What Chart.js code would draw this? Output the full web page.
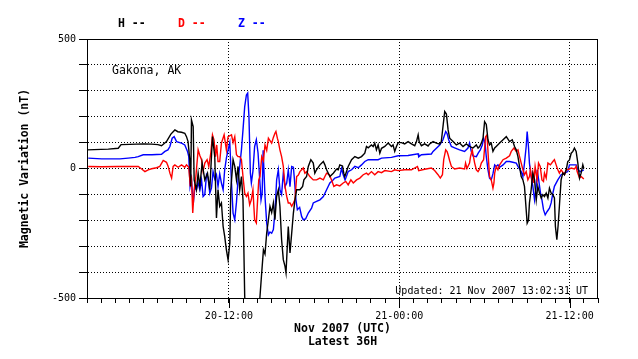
<!DOCTYPE html>
<html lang="en">
<head>
    <meta charset="UTF-8">
    <title>Gakona, AK - Magnetic Variation</title>
    <style>
        html, body { margin: 0; padding: 0; background: #fff; }
        #wrap { width: 638px; height: 359px; }
    </style>
    <script src="https://cdn.jsdelivr.net/npm/chart.js"></script>
</head>
<body>
    <div id="wrap"><canvas id="grafico"></canvas></div>

    <script>
        // hours since 20 Nov 2007 02:00 UTC (36 h window)
        const hTime = [0,0.5,1,1.5,2.2,2.4,3,3.5,4,4.55,5.0,5.25,5.6,5.91,6.19,6.4,6.66,6.89,7.01,7.12,7.24,7.31,7.36,7.48,7.55,7.71,7.83,7.95,8.11,8.3,8.49,8.65,8.84,9.0,9.12,9.23,9.35,9.47,9.59,9.7,9.82,9.94,10.06,10.13,10.29,10.41,10.53,10.64,10.76,10.88,10.99,11.11,11.2,12.1,12.17,12.29,12.43,12.54,12.66,12.78,12.89,13.01,13.13,13.24,13.36,13.48,13.59,13.71,13.83,13.95,14.02,14.11,14.18,14.3,14.42,14.54,14.65,14.77,15.0,15.19,15.28,15.47,15.59,15.77,15.94,16.05,16.17,16.41,16.65,16.76,16.88,17.11,17.35,17.58,17.7,17.81,18.0,18.09,18.16,18.23,18.4,18.64,18.87,19.11,19.34,19.57,19.69,19.81,20.04,20.16,20.27,20.39,20.51,20.63,20.75,20.98,21.22,21.45,21.56,21.68,21.8,21.92,22.15,22.38,22.62,22.86,23.09,23.21,23.33,23.4,23.56,23.79,24.03,24.14,24.38,24.61,24.85,24.96,25.08,25.2,25.32,25.44,25.55,25.79,26.02,26.25,26.49,26.72,26.95,27.19,27.43,27.55,27.66,27.78,27.9,28.01,28.13,28.25,28.36,28.48,28.6,28.72,28.83,29.07,29.31,29.54,29.77,29.96,30.12,30.24,30.36,30.47,30.59,30.71,30.82,30.94,31.01,31.1,31.17,31.29,31.41,31.53,31.65,31.76,31.88,32.0,32.11,32.23,32.35,32.47,32.58,32.7,32.82,32.93,33.0,33.1,33.19,33.28,33.4,33.52,33.64,33.76,33.87,33.99,34.11,34.23,34.34,34.46,34.58,34.7,34.81,34.93,35.0];
        const hVal  = [72,73,74,75,78,92,93,94,95,94,92,88,104,133,149,142,140,136,123,104,34,-69,188,162,-44,-82,-18,-69,21,-44,-18,-82,123,46,-191,-82,-146,-133,-224,-262,-314,-353,-288,-82,34,8,-44,8,-82,-31,-121,-494,-560,-560,-507,-416,-314,-330,-249,-198,-146,-170,-133,-198,-108,-82,-146,-275,-352,-378,-403,-301,-224,-326,-250,-172,-121,-82,-82,-69,-44,-31,8,34,21,-18,-5,14,27,14,-5,-31,-18,-2,-5,14,10,-18,-31,-20,8,34,46,40,46,59,85,80,91,85,98,72,91,59,78,85,98,85,91,66,85,100,100,95,104,95,88,104,130,104,88,95,87,95,104,98,94,104,162,220,210,149,117,104,91,98,85,95,85,79,91,79,85,98,117,181,170,111,91,98,66,79,85,98,111,123,104,111,85,72,46,8,-31,-44,-69,-159,-211,-200,-133,-82,-18,-44,-121,-69,-95,-114,-101,-108,-95,-114,-76,-95,-101,-114,-224,-275,-220,-146,-44,-18,-24,-5,27,33,59,66,79,66,21,-37,-18,14,0];

        const dTime = [0.09,1.03,2.18,3.61,3.85,4.08,4.31,4.55,4.9,5.13,5.37,5.6,5.72,5.84,5.96,6.07,6.19,6.42,6.66,6.89,7.01,7.17,7.26,7.36,7.45,7.55,7.67,7.83,7.95,8.07,8.18,8.3,8.46,8.58,8.72,8.84,8.95,9.05,9.14,9.23,9.35,9.47,9.66,9.82,9.94,10.18,10.29,10.41,10.53,10.64,10.76,10.88,10.99,11.11,11.23,11.34,11.46,11.58,11.69,11.81,11.93,12.0,12.1,12.19,12.31,12.43,12.54,12.66,12.78,12.89,13.01,13.13,13.24,13.31,13.41,13.48,13.59,13.71,13.83,13.95,14.07,14.18,14.3,14.42,14.54,14.65,14.77,14.89,15.0,15.12,15.24,15.35,15.47,15.7,15.94,16.17,16.41,16.65,16.76,16.88,17.07,17.23,17.39,17.58,17.81,18.05,18.23,18.4,18.59,18.76,18.99,19.22,19.46,19.69,19.81,20.04,20.27,20.51,20.75,20.98,21.45,21.68,21.92,22.38,22.86,23.28,23.37,23.79,24.26,24.49,24.73,24.89,25.04,25.13,25.27,25.37,25.44,25.55,25.67,25.9,26.25,26.6,26.67,26.77,26.95,27.02,27.14,27.31,27.43,27.55,27.66,27.78,27.94,28.08,28.18,28.27,28.36,28.48,28.6,28.67,28.72,28.83,28.95,29.07,29.31,29.54,29.77,29.89,30.08,30.24,30.36,30.47,30.59,30.71,30.82,30.94,31.06,31.17,31.24,31.34,31.41,31.48,31.57,31.71,31.81,31.93,32.05,32.16,32.23,32.35,32.47,32.65,32.82,32.93,33.05,33.17,33.28,33.4,33.64,33.76,33.99,34.11,34.34,34.46,34.53,34.7,34.81,35.0];
        const dVal  = [8,7,8,8,-2,-12,-5,-1,3,8,31,24,8,-18,-37,8,14,5,14,5,14,5,-56,-37,-172,-82,-31,72,50,34,-10,21,34,8,59,130,110,46,91,27,27,98,130,72,123,130,100,123,53,46,46,34,-31,-95,-108,-95,-140,-120,-82,-198,-210,-140,-44,-30,46,30,91,70,117,108,98,120,136,143,117,104,72,46,8,-69,-108,-133,-133,-146,-133,-120,-31,-25,-12,-5,2,-18,-12,-31,-44,-44,-37,-44,-31,-18,-24,-44,-69,-63,-67,-56,-50,-63,-44,-56,-44,-37,-24,-18,-24,-12,-24,-12,-16,-8,-12,-5,-8,-5,-5,8,-8,-3,2,-8,-24,-37,-24,34,72,65,53,30,8,-2,2,-2,21,0,21,46,72,21,-5,-12,-2,21,34,123,130,46,-31,-44,-76,-56,-18,8,-5,14,34,40,49,66,79,66,72,47,21,-5,-24,-12,-44,-31,-5,-44,-18,-56,8,-44,21,8,-44,-50,-18,-37,21,14,27,34,14,-5,-18,-5,-24,-5,-2,2,-2,8,-12,-37,-31,-41];

        const zTime = [0.09,1.03,2.32,2.9,3.38,3.61,3.96,4.57,5.25,5.49,5.7,5.84,6.0,6.14,6.31,6.66,6.89,7.08,7.17,7.26,7.36,7.48,7.6,7.71,7.83,7.95,8.07,8.18,8.3,8.42,8.53,8.65,8.77,8.88,9.0,9.12,9.23,9.35,9.47,9.59,9.7,9.82,9.94,10.06,10.18,10.29,10.41,10.53,10.64,10.76,10.88,10.99,11.11,11.23,11.32,11.41,11.51,11.58,11.69,11.81,11.93,12.05,12.17,12.26,12.34,12.41,12.54,12.66,12.78,12.89,13.01,13.13,13.24,13.36,13.48,13.59,13.71,13.83,13.95,14.07,14.18,14.3,14.42,14.54,14.61,14.72,14.82,14.98,15.12,15.24,15.4,15.59,15.82,15.94,16.17,16.41,16.65,16.88,17.11,17.32,17.46,17.81,17.93,18.05,18.18,18.28,18.4,18.64,18.87,19.11,19.34,19.57,19.81,20.51,20.75,21.45,21.92,22.62,23.33,23.37,23.56,24.26,24.38,24.85,25.08,25.27,25.37,25.48,25.67,25.9,26.25,26.6,26.84,26.95,27.07,27.19,27.43,27.57,27.71,27.85,27.94,28.04,28.13,28.25,28.36,28.48,28.6,28.72,28.83,28.95,29.07,29.31,29.54,29.77,30.0,30.24,30.36,30.59,30.71,30.82,30.94,31.01,31.1,31.17,31.29,31.41,31.53,31.65,31.72,31.81,31.95,32.05,32.16,32.28,32.42,32.58,32.7,32.82,32.93,33.17,33.4,33.64,33.87,33.99,34.23,34.46,34.58,34.74,35.0];
        const zVal  = [40,37,37,40,43,46,53,53,55,66,72,85,117,123,104,98,91,66,46,-69,-40,-140,-70,-82,-55,-82,-44,-108,-100,-24,-35,-95,-75,-12,-40,-24,-69,-20,-56,-82,-5,40,72,100,-56,-172,-198,-130,-44,10,72,149,239,284,291,200,-18,-56,-10,85,111,60,-44,-121,-95,70,-108,-211,-256,-245,-250,-236,-170,-44,-5,-82,-100,-18,-70,-56,-5,-70,8,5,-40,-121,-159,-150,-185,-198,-195,-172,-153,-133,-127,-121,-108,-82,-56,-45,-37,-31,0,-24,-44,-30,-12,-5,8,3,14,27,34,34,40,43,49,50,57,45,53,56,66,91,111,143,135,111,85,80,72,66,79,98,66,49,46,60,72,91,117,100,46,-5,-37,-44,-20,14,8,14,5,14,27,27,24,21,8,-12,-31,21,85,143,85,21,-31,-69,-121,-69,-5,-40,-95,-121,-159,-179,-166,-153,-133,-95,-69,-44,-24,-18,-12,14,14,14,-5,-12,-5];

        // x axis labels at the 12 h marks
        const majorHours = [10, 22, 34];
        const majorLabels = ['20-12:00', '21-00:00', '21-12:00'];
        const yLabelled = [500, 0, -500];

        const mono = 'DejaVu Sans Mono';

        function pares(t, v) {
            return t.map((h, i) => ({ x: h, y: v[i] }));
        }

        // moldura, marcas longas, legenda e textos
        const extras = {
            id: 'extras',
            afterDraw(chart) {
                const { ctx, chartArea: a, scales: { x } } = chart;
                ctx.save();
                ctx.strokeStyle = '#000';
                ctx.lineWidth = 1;
                ctx.strokeRect(a.left + 0.5, a.top + 0.5, a.right - a.left - 1, a.bottom - a.top);
                majorHours.forEach(h => {
                    const px = Math.round(x.getPixelForValue(h)) + 0.5;
                    ctx.beginPath();
                    ctx.moveTo(px, a.bottom);
                    ctx.lineTo(px, a.bottom + 10);
                    ctx.stroke();
                });

                ctx.textBaseline = 'middle';
                ctx.textAlign = 'left';
                ctx.font = 'bold 11.5px "' + mono + '"';
                chart.data.datasets.forEach((ds, i) => {
                    ctx.fillStyle = ds.borderColor;
                    ctx.fillText(ds.label + ' --', 118 + i * 60, 24);
                });

                ctx.fillStyle = '#000';
                ctx.font = '11.5px "' + mono + '"';
                ctx.fillText('Gakona, AK', 112, 71);

                ctx.font = '10px "' + mono + '"';
                ctx.textAlign = 'right';
                ctx.fillText('Updated: 21 Nov 2007 13:02:31 UT', 588, 291);
                ctx.restore();
            }
        };

        const ctx = document.getElementById('grafico').getContext('2d');
        new Chart(ctx, {
            type: 'line',
            data: {
                datasets: [
                    { label: 'H', data: pares(hTime, hVal), borderColor: '#000000' },
                    { label: 'D', data: pares(dTime, dVal), borderColor: '#ff0000' },
                    { label: 'Z', data: pares(zTime, zVal), borderColor: '#0000ff' }
                ]
            },
            options: {
                animation: false,
                responsive: true,
                maintainAspectRatio: false,
                layout: { padding: { top: 39, right: 40, left: 0, bottom: 0 } },
                elements: {
                    line: { borderWidth: 1.4, tension: 0 },
                    point: { radius: 0 }
                },
                plugins: {
                    legend: { display: false },
                    tooltip: { enabled: false }
                },
                scales: {
                    x: {
                        type: 'linear',
                        min: 0,
                        max: 36,
                        afterFit(s) { s.height = 61; },
                        ticks: {
                            stepSize: 1,
                            autoSkip: false,
                            maxRotation: 0,
                            padding: 7,
                            color: '#000',
                            font: { family: mono, size: 10 },
                            callback: v => {
                                const k = majorHours.indexOf(v);
                                return k >= 0 ? majorLabels[k] : '';
                            }
                        },
                        grid: {
                            color: c => majorHours.includes(c.tick && c.tick.value) ? '#000' : 'rgba(0,0,0,0)',
                            tickColor: '#000',
                            tickLength: 5,
                            lineWidth: 1
                        },
                        border: { display: true, color: '#000', width: 1, dash: [1, 2] },
                        title: {
                            display: true,
                            text: ['Nov 2007 (UTC)', 'Latest 36H'],
                            color: '#000',
                            font: { family: mono, size: 11.5, weight: 'bold', lineHeight: 1.13 },
                            padding: { top: 0, bottom: 10 }
                        }
                    },
                    y: {
                        min: -500,
                        max: 500,
                        afterFit(s) { s.width = 87; },
                        ticks: {
                            stepSize: 100,
                            padding: 3,
                            color: '#000',
                            font: { family: mono, size: 10 },
                            callback: v => yLabelled.includes(v) ? String(v) : ''
                        },
                        grid: {
                            color: c => {
                                const v = c.tick && c.tick.value;
                                return (v === 500 || v === -500) ? 'rgba(0,0,0,0)' : '#000';
                            },
                            tickColor: '#000',
                            tickLength: 8,
                            lineWidth: 1
                        },
                        border: { display: true, color: '#000', width: 1, dash: [1, 2] },
                        title: {
                            display: true,
                            text: 'Magnetic Variation (nT)',
                            color: '#000',
                            font: { family: mono, size: 11.5, weight: 'bold' },
                            padding: { top: 18, bottom: 0 }
                        }
                    }
                }
            },
            plugins: [extras]
        });
    </script>
</body>
</html>
